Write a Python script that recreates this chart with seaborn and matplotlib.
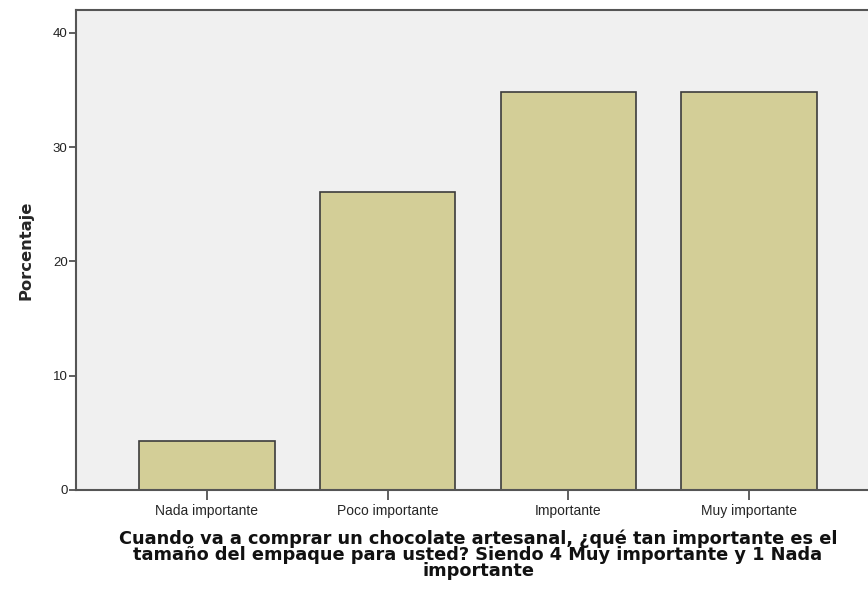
import pandas as pd
import seaborn as sns
from matplotlib import pyplot as plt

categorias = ['Nada importante', 'Poco importante', 'Importante', 'Muy importante']
porcentajes = [4.3, 26.1, 34.8, 34.8]
y_ticks = [0, 10, 20, 30, 40]

df = pd.DataFrame({'categoria': categorias, 'porcentaje': porcentajes})

sns.set_style('white')
plt.rcParams['font.family'] = ['Liberation Sans', 'DejaVu Sans']

fig = plt.figure(figsize=(8.68, 5.90), dpi=100)
ax = fig.add_axes([76 / 868, 100 / 590, 804 / 868, 480 / 590])
ax.set_facecolor('#f0f0f0')

sns.barplot(ax=ax, data=df, x='categoria', y='porcentaje', color='#d3ce97', saturation=1,
            width=0.75, edgecolor='#3c3c3c', linewidth=1.2, errorbar=None)

ax.set_xlim(-0.724, 3.724)
ax.set_ylim(0, 42)
ax.set_yticks(y_ticks)
ax.set_yticklabels([str(t) for t in y_ticks], fontsize=9.5, color='#222222')
ax.tick_params(axis='y', direction='out', length=5, width=1.2, color='#444444', left=True, pad=1)
ax.tick_params(axis='x', direction='out', length=7, width=1.2, color='#444444', bottom=True, labelsize=10,
               pad=3)
for s in ['left', 'bottom', 'top']:
    ax.spines[s].set_color('#555555')
    ax.spines[s].set_linewidth(1.5)
ax.spines['right'].set_visible(False)

ax.set_ylabel('Porcentaje', fontsize=11.8, fontweight='bold', family=['DejaVu Sans'], labelpad=14)
ax.set_xlabel('Cuando va a comprar un chocolate artesanal, ¿qué tan importante es el\n'
              'tamaño del empaque para usted? Siendo 4 Muy importante y 1 Nada\n'
              'importante', fontsize=12.8, fontweight='bold', family=['DejaVu Sans'],
              color='#111111', linespacing=0.86, labelpad=8)

plt.savefig('out.png', dpi=100)
